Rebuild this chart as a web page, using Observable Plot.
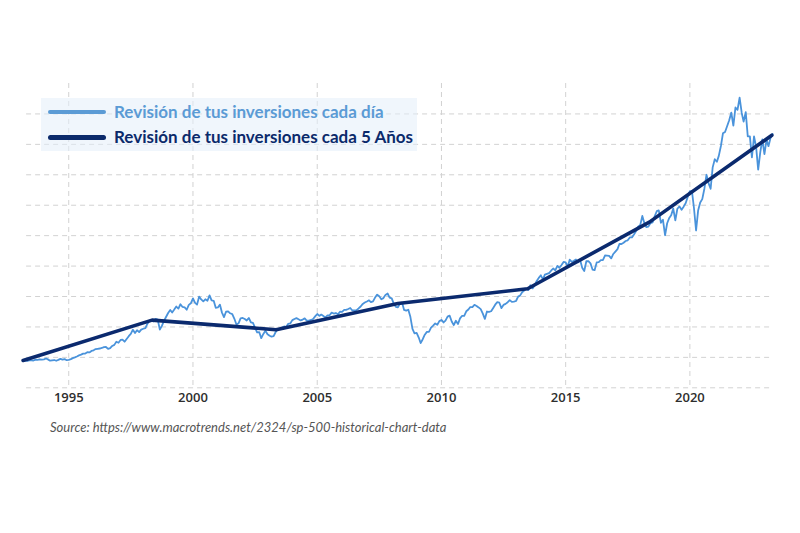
<!DOCTYPE html>
<html>
<head>
<meta charset="utf-8">
<script src="https://cdn.jsdelivr.net/npm/d3@7"></script>
<script src="https://cdn.jsdelivr.net/npm/@observablehq/plot@0.6"></script>
<style>
  body { margin: 0; background: #fff; }
  #wrap { position: relative; width: 800px; height: 533px; overflow: hidden; }
  #chart { position: absolute; left: 0; top: 0; }
  #chart svg text { font-family: "Open Sans", sans-serif; font-weight: 600; font-size: 13px; fill: #2e2e2e; }
  #legend {
    position: absolute; left: 41px; top: 98px; width: 376px; height: 53px;
    background: rgba(228, 238, 250, 0.55);
  }
  .swatch { position: absolute; left: 7px; width: 58px; border-radius: 3px; }
  .label {
    position: absolute; left: 73px; white-space: nowrap;
    font-family: Lato, sans-serif; font-weight: 700; font-size: 17px; line-height: 20px;
  }
  #caption {
    position: absolute; left: 50px; top: 419px; white-space: nowrap;
    font-family: Lato, sans-serif; font-style: italic; font-size: 13px; color: #555;
  }
</style>
</head>
<body>
<div id="wrap">
  <div id="chart"></div>
  <div id="legend"></div>
  <div id="caption"></div>
</div>
<script>
// S&P 500 month-end closes, Feb 1993 through Apr 2023
const firstMonth = "1993-02-01";
const closes = [
  443.4, 451.7, 440.2, 450.2, 450.5, 448.1, 463.6, 458.9, 467.8, 461.8, 466.5,
  481.6, 467.1, 445.8, 450.9, 456.5, 444.3, 458.3, 475.5, 462.7, 472.4, 453.7, 459.3,
  470.4, 487.4, 500.7, 514.7, 533.4, 544.8, 562.1, 561.9, 584.4, 581.5, 605.4, 615.9,
  636.0, 640.4, 645.5, 654.2, 669.1, 670.6, 639.9, 652.0, 687.3, 705.3, 757.0, 740.7,
  786.2, 790.8, 757.1, 801.3, 848.3, 885.1, 954.3, 899.5, 947.3, 914.6, 955.4, 970.4,
  980.3, 1049.3, 1101.8, 1111.8, 1090.8, 1133.8, 1120.7, 957.3, 1017.0, 1098.7, 1163.6, 1229.2,
  1279.6, 1238.3, 1286.4, 1335.2, 1301.8, 1372.7, 1328.7, 1320.4, 1282.7, 1362.9, 1388.9, 1469.3,
  1394.5, 1366.4, 1498.6, 1452.4, 1420.6, 1454.6, 1430.8, 1517.7, 1436.5, 1429.4, 1315.2, 1320.3,
  1366.0, 1239.9, 1160.3, 1249.5, 1255.8, 1224.4, 1211.2, 1133.6, 1040.9, 1059.8, 1139.5, 1148.1,
  1130.2, 1106.7, 1147.4, 1076.9, 1067.1, 989.8, 911.6, 916.1, 815.3, 885.8, 936.3, 879.8,
  855.7, 841.2, 848.2, 916.9, 963.6, 974.5, 990.3, 1008.0, 996.0, 1050.7, 1058.2, 1111.9,
  1131.1, 1144.9, 1126.2, 1107.3, 1120.7, 1140.8, 1101.7, 1104.2, 1114.6, 1130.2, 1173.8, 1211.9,
  1181.3, 1203.6, 1180.6, 1156.9, 1191.5, 1191.3, 1234.2, 1220.3, 1228.8, 1207.0, 1249.5, 1248.3,
  1280.1, 1280.7, 1294.9, 1310.6, 1270.1, 1270.2, 1276.7, 1303.8, 1335.9, 1377.9, 1400.6, 1418.3,
  1438.2, 1406.8, 1420.9, 1482.4, 1530.6, 1503.4, 1455.3, 1474.0, 1526.8, 1549.4, 1481.1, 1468.4,
  1378.6, 1330.6, 1322.7, 1385.6, 1400.4, 1280.0, 1267.4, 1282.8, 1166.4, 968.8, 896.2, 903.3,
  825.9, 735.1, 797.9, 872.8, 919.1, 919.3, 987.5, 1020.6, 1057.1, 1036.2, 1095.6, 1115.1,
  1073.9, 1104.5, 1169.4, 1186.7, 1089.4, 1030.7, 1101.6, 1049.3, 1141.2, 1183.3, 1180.6, 1257.6,
  1286.1, 1327.2, 1325.8, 1363.6, 1345.2, 1320.6, 1292.3, 1218.9, 1131.4, 1253.3, 1247.0, 1257.6,
  1312.4, 1365.7, 1408.5, 1397.9, 1310.3, 1362.2, 1379.3, 1406.6, 1440.7, 1412.2, 1416.2, 1426.2,
  1498.1, 1514.7, 1569.2, 1597.6, 1630.7, 1606.3, 1685.7, 1633.0, 1681.6, 1756.5, 1805.8, 1848.4,
  1782.6, 1859.5, 1872.3, 1883.9, 1923.6, 1960.2, 1930.7, 2003.4, 1972.3, 2018.1, 2067.6, 2058.9,
  1995.0, 2104.5, 2067.9, 2085.5, 2107.4, 2063.1, 2103.8, 1972.2, 1920.0, 2079.4, 2080.4, 2043.9,
  1940.2, 1932.2, 2059.7, 2065.3, 2096.9, 2098.9, 2173.6, 2170.9, 2168.3, 2126.2, 2199.0, 2238.8,
  2278.9, 2363.6, 2362.7, 2384.2, 2411.8, 2423.4, 2470.3, 2471.7, 2519.4, 2575.3, 2647.6, 2673.6,
  2823.8, 2713.8, 2640.9, 2648.1, 2705.3, 2718.4, 2816.3, 2901.5, 2914.0, 2711.7, 2760.2, 2506.9,
  2704.1, 2784.5, 2834.4, 2945.8, 2752.1, 2941.8, 2980.4, 2926.5, 2976.7, 3037.6, 3141.0, 3230.8,
  3225.5, 2954.2, 2584.6, 2912.4, 3044.3, 3100.3, 3271.1, 3500.3, 3363.0, 3270.0, 3621.6, 3756.1,
  3714.2, 3811.2, 3972.9, 4181.2, 4204.1, 4297.5, 4395.3, 4522.7, 4307.5, 4605.4, 4567.0, 4766.2,
  4515.6, 4373.9, 4530.4, 4131.9, 4132.2, 3785.4, 4130.3, 3955.0, 3585.6, 3872.0, 4080.1, 3839.5,
  4076.6, 3970.2, 4109.3, 4169.5
];

// Portfolio checked only every five years
const reviewDates = ["1993-03-01", "1998-05-10", "2003-05-07", "2008-04-01", "2013-06-20", "2018-05-15", "2023-04-20"];
const reviewValues = [450, 1112, 955, 1386, 1628, 2722, 4150];

// Axis and grid ticks
const yearTicks = [1995, 2000, 2005, 2010, 2015, 2020];
const valueGrid = [0, 500, 1000, 1500, 2000, 2500, 3000, 3500, 4000, 4500];

const legendItems = [
  { text: "Revisión de tus inversiones cada día", color: "#5b9bd5", line: "#5b9bd5", thickness: 4 },
  { text: "Revisión de tus inversiones cada 5 Años", color: "#0b2a6b", line: "#0b2a6b", thickness: 5 }
];
const sourceText = "Source: https://www.macrotrends.net/2324/sp-500-historical-chart-data";

// Each month-end close sits at the start of the following month
const start = new Date(firstMonth);
const daily = closes.map((c, i) => ({ date: d3.utcMonth.offset(start, i + 1), close: c }));
const review = reviewDates.map((d, i) => ({ date: new Date(d), value: reviewValues[i] }));
const tickDates = yearTicks.map(y => new Date(Date.UTC(y, 0, 1)));

const gridStyle = { stroke: "#d2d2d2", strokeOpacity: 1, strokeWidth: 1, strokeDasharray: "5,4" };

const chart = Plot.plot({
  width: 800,
  height: 420,
  marginTop: 83,
  marginBottom: 32.7,
  marginLeft: 22.6,
  marginRight: 27.9,
  style: { fontFamily: "'Open Sans', sans-serif", fontSize: "13px", background: "transparent" },
  x: { type: "utc", domain: [daily[0].date, daily[daily.length - 1].date] },
  y: { domain: [0, 5000], axis: null },
  marks: [
    Plot.gridY(valueGrid, { ...gridStyle, insetLeft: 3.5, insetRight: 2 }),
    Plot.gridX(tickDates, gridStyle),
    Plot.axisX(tickDates, { tickSize: 0, tickPadding: 5, fontSize: 13, tickFormat: d3.utcFormat("%Y"), label: null }),
    Plot.line(daily, { x: "date", y: "close", stroke: "#4a93db", strokeWidth: 1.8 }),
    Plot.line(review, { x: "date", y: "value", stroke: "#0b2a6e", strokeWidth: 3.6, strokeLinecap: "round" })
  ]
});
document.getElementById("chart").appendChild(chart);

// Legend overlay
const legend = document.getElementById("legend");
legendItems.forEach((item, i) => {
  const cy = 14 + i * 25;
  const sw = document.createElement("div");
  sw.className = "swatch";
  sw.style.top = (cy - item.thickness / 2) + "px";
  sw.style.height = item.thickness + "px";
  sw.style.background = item.line;
  legend.appendChild(sw);
  const lab = document.createElement("div");
  lab.className = "label";
  lab.style.top = (cy - 10) + "px";
  lab.style.color = item.color;
  lab.textContent = item.text;
  legend.appendChild(lab);
});

document.getElementById("caption").textContent = sourceText;
</script>
</body>
</html>
